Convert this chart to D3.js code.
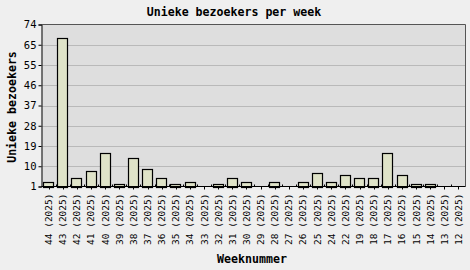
<!DOCTYPE html>
<html>
<head>
<meta charset="utf-8">
<script src="https://cdn.jsdelivr.net/npm/d3@7"></script>
<style>
  html, body { margin: 0; padding: 0; background: #efefef; }
  svg { display: block; }
  text { font-family: "DejaVu Sans Mono", monospace; fill: #000; }
</style>
</head>
<body>
<svg id="chart" width="470" height="270"></svg>
<script>
// Weekly unique visitors, newest week first
const weeks = ["44","43","42","41","40","39","38","37","36","35","34","33","32","31","30",
               "29","28","27","26","25","24","22","19","18","17","16","15","14","13","12"];
const year = "2025";
const visitors = [3,68,5,8,16,2,14,9,5,2,3,0,2,5,3,0,3,0,3,7,3,6,5,5,16,6,2,2,0,0];
const yTickLabels = ["1","10","19","28","37","46","55","65","74"];
const yMin = 1, yMax = 74;

const W = 470, H = 270;
const m = { left: 41.5, right: 465.5, top: 24.5, bottom: 186.5 };

const svg = d3.select("#chart");

const x = d3.scaleBand()
  .domain(weeks)
  .range([m.left, m.right])
  .paddingInner(0.24)
  .paddingOuter(0.12);

const y = d3.scaleLinear()
  .domain([yMin, yMax])
  .range([m.bottom, m.top])
  .clamp(true);

const yTickValues = yTickLabels.map((_, i) => yMin + i * (yMax - yMin) / (yTickLabels.length - 1));

// plot background
svg.append("rect")
  .attr("x", m.left).attr("y", m.top)
  .attr("width", m.right - m.left).attr("height", m.bottom - m.top)
  .attr("fill", "#dedede");

// horizontal grid
svg.append("g")
  .selectAll("line")
  .data(yTickValues.slice(1, -1))
  .join("line")
  .attr("x1", m.left).attr("x2", m.right)
  .attr("y1", d => Math.round(y(d)) + 0.5)
  .attr("y2", d => Math.round(y(d)) + 0.5)
  .attr("stroke", "#b9b9b9")
  .attr("stroke-width", 1);

// bars
svg.append("g")
  .selectAll("rect")
  .data(weeks.map((w, i) => ({ w, v: visitors[i] })))
  .join("rect")
  .attr("x", d => Math.round(x(d.w)) + 0.5)
  .attr("width", Math.round(x.bandwidth()) - 1)
  .attr("y", d => Math.round(y(d.v)) + 0.5)
  .attr("height", d => Math.max(0, Math.round(y(yMin)) - Math.round(y(d.v))))
  .attr("fill", "#dfe3c8")
  .attr("stroke", "#000")
  .attr("stroke-width", 1.2);

// frame: top and right sides grey, axes black
svg.append("path")
  .attr("d", `M${m.left},${m.top}H${m.right}V${m.bottom}`)
  .attr("fill", "none").attr("stroke", "#555").attr("stroke-width", 1);

// y axis
const yAxis = d3.axisLeft(y)
  .tickValues(yTickValues)
  .tickFormat((d, i) => yTickLabels[i])
  .tickSize(3)
  .tickPadding(2);
const gy = svg.append("g")
  .attr("transform", `translate(${m.left},0)`)
  .call(yAxis);
gy.select(".domain").attr("stroke", "#000");
gy.selectAll(".tick line").attr("stroke", "#000");
gy.selectAll(".tick text")
  .attr("font-family", "DejaVu Sans Mono")
  .attr("font-size", 10.5)
  .attr("fill", "#000");

// x axis: ticks down at centres, small ticks up at category boundaries
const gx = svg.append("g")
  .attr("transform", `translate(0,${m.bottom})`);
gx.append("line")
  .attr("x1", m.left).attr("x2", m.right)
  .attr("stroke", "#000");
const step = x.step();
const bounds = d3.range(weeks.length + 1).map(i => x(weeks[0]) - x.paddingInner() * step / 2 + i * step);
gx.selectAll("line.minor")
  .data(bounds.slice(1, -1))
  .join("line")
  .attr("class", "minor")
  .attr("x1", d => Math.round(d) + 0.5).attr("x2", d => Math.round(d) + 0.5)
  .attr("y1", 0).attr("y2", -2)
  .attr("stroke", "#000");
gx.selectAll("line.major")
  .data(weeks)
  .join("line")
  .attr("class", "major")
  .attr("x1", d => Math.round(x(d) + x.bandwidth() / 2) + 0.5)
  .attr("x2", d => Math.round(x(d) + x.bandwidth() / 2) + 0.5)
  .attr("y1", 0).attr("y2", 3)
  .attr("stroke", "#000");
gx.selectAll("text")
  .data(weeks)
  .join("text")
  .attr("transform", d => `translate(${x(d) + x.bandwidth() / 2 + 3.5},7) rotate(-90)`)
  .attr("text-anchor", "end")
  .attr("font-size", 9.5)
  .text(d => `${d} (${year})`);

// title
svg.append("text")
  .attr("x", 234).attr("y", 15.5)
  .attr("text-anchor", "middle")
  .attr("font-weight", "bold")
  .attr("font-size", 11.6)
  .text("Unieke bezoekers per week");

// axis titles
svg.append("text")
  .attr("transform", `translate(16,${(m.top + m.bottom) / 2 + 1.5}) rotate(-90)`)
  .attr("text-anchor", "middle")
  .attr("font-weight", "bold")
  .attr("font-size", 11.6)
  .text("Unieke bezoekers");

svg.append("text")
  .attr("x", 252).attr("y", 263)
  .attr("text-anchor", "middle")
  .attr("font-weight", "bold")
  .attr("font-size", 11.6)
  .text("Weeknummer");
</script>
</body>
</html>
